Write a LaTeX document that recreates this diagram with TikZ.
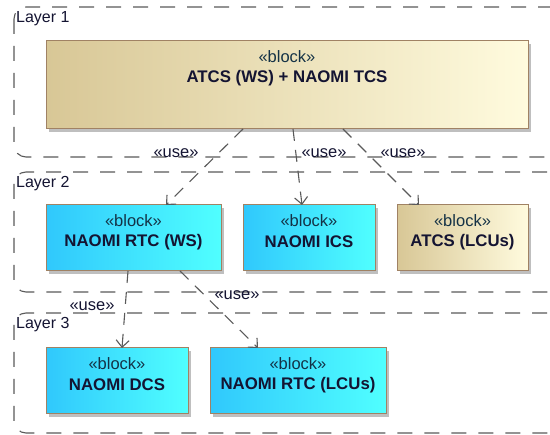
\documentclass[tikz,border=0pt]{standalone}
\usepackage{fontspec}
\setmainfont{Liberation Sans}
\usetikzlibrary{arrows.meta,shadows}
\definecolor{tanL}{RGB}{216,199,150}
\definecolor{tanR}{RGB}{255,251,222}
\definecolor{cyL}{RGB}{48,200,252}
\definecolor{cyR}{RGB}{80,255,255}
\definecolor{bord}{RGB}{160,130,100}
\definecolor{frm}{RGB}{90,90,90}
\definecolor{txt}{RGB}{20,20,50}
\definecolor{stx}{RGB}{20,50,70}
\tikzset{
  frame/.style={draw=frm, line width=1.1pt, dash pattern=on 15pt off 12pt, rounded corners=12pt},
  layerlbl/.style={anchor=north west, inner sep=1pt, text=txt, font=\fontsize{16}{18}\selectfont},
  blk/.style={draw=bord, line width=1pt, inner sep=0pt, outer sep=0pt,
    drop shadow={shadow xshift=3pt, shadow yshift=-3pt, fill=black, opacity=0.25}},
  tanblk/.style={blk, left color=tanL, right color=tanR},
  cyblk/.style={blk, left color=cyL, right color=cyR},
  stereo/.style={inner sep=0pt, text=stx, font=\fontsize{16.5}{18}\selectfont},
  bname/.style={inner sep=0pt, text=txt, font=\fontsize{16.8}{18}\selectfont\bfseries},
  usec/.style={draw=frm, line width=1.1pt, dash pattern=on 12pt off 9pt, -{Straight Barb[length=7pt,width=13pt]}},
  uselbl/.style={inner sep=0pt, text=txt, font=\fontsize{16.5}{18}\selectfont}
}
\begin{document}
\begin{tikzpicture}[x=1pt,y=-1pt]
\useasboundingbox (0,0) rectangle (550,435);
\clip (0,0) rectangle (550,435);
\fill[white] (0,0) rectangle (550,435);
% frames
\draw[frame] (14,7) rectangle (620,157);
\draw[frame] (14,172) rectangle (620,292);
\draw[frame] (14,313) rectangle (620,433);
\node[layerlbl] (l1) at (15,10) {Layer 1};
\node[layerlbl] (l2) at (15,175) {Layer 2};
\node[layerlbl] (l3) at (15,316) {Layer 3};
% blocks
\node[tanblk, minimum width=482pt, minimum height=88pt] (top) at (287,85) {};
\node[cyblk, minimum width=175pt, minimum height=66pt] (rtcws) at (133.5,238) {};
\node[cyblk, minimum width=132pt, minimum height=66pt] (ics) at (309,238) {};
\node[tanblk, minimum width=131pt, minimum height=66pt] (atcs) at (462.5,238) {};
\node[cyblk, minimum width=142pt, minimum height=66pt] (dcs) at (117,381) {};
\node[cyblk, minimum width=176pt, minimum height=66pt] (rtclcu) at (298,381) {};
% texts
\foreach \b/\n in {top/ATCS (WS) + NAOMI TCS, rtcws/NAOMI RTC (WS), ics/NAOMI ICS, atcs/ATCS (LCUs), dcs/NAOMI DCS, rtclcu/NAOMI RTC (LCUs)}{
  \node[stereo] (\b-st) at ([yshift=-16pt]\b.north) {«block»};
  \node[bname] (\b-nm) at ([yshift=-37pt]\b.north) {\n};
}
% connectors
\draw[usec] ([xshift=197pt]top.south west) -- ([xshift=120pt]rtcws.north west);
\draw[usec] ([xshift=247pt]top.south west) -- ([xshift=59pt]ics.north west);
\draw[usec] ([xshift=297pt]top.south west) -- ([xshift=22pt]atcs.north west);
\draw[usec] ([xshift=82pt]rtcws.south west) -- ([xshift=76pt]dcs.north west);
\draw[usec] ([xshift=134pt]rtcws.south west) -- ([xshift=48pt]rtclcu.north west);
% labels
\node[uselbl] (u1) at (176,153) {«use»};
\node[uselbl] (u2) at (324,153) {«use»};
\node[uselbl] (u3) at (403,153) {«use»};
\node[uselbl] (u4) at (92,306) {«use»};
\node[uselbl] (u5) at (237,295) {«use»};
\end{tikzpicture}
\end{document}
